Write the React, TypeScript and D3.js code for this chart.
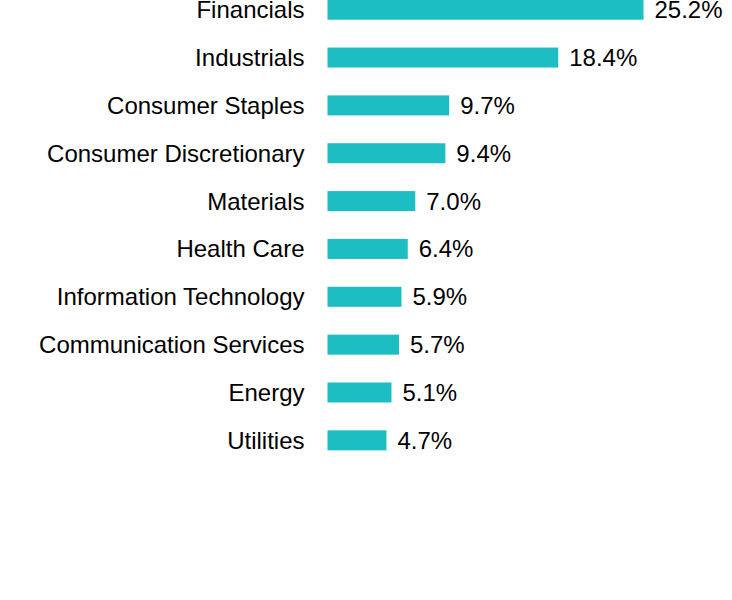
import { useEffect, useRef } from 'react';
import * as d3 from 'd3';

const sectors = [
  'Financials',
  'Industrials',
  'Consumer Staples',
  'Consumer Discretionary',
  'Materials',
  'Health Care',
  'Information Technology',
  'Communication Services',
  'Energy',
  'Utilities',
];

const weights = [25.2, 18.4, 9.7, 9.4, 7.0, 6.4, 5.9, 5.7, 5.1, 4.7];

export default function App() {
  const svgRef = useRef<SVGSVGElement | null>(null);

  useEffect(() => {
    if (!svgRef.current) return;

    const svg = d3.select(svgRef.current);
    svg.selectAll('*').remove();

    const barLeft = 327.5;
    const step = 47.85;
    const barHeight = 20;
    const pad = 1 - barHeight / step;
    const font = 'Arial, "Liberation Sans", sans-serif';

    const rows = sectors.map((name, i) => ({ name, value: weights[i] }));

    // x scale for bar length
    const x = d3.scaleLinear()
      .domain([0, d3.max(weights) as number])
      .range([barLeft, 643.5]);

    // y band scale, first bar sits right at the top edge
    const top = -0.3 - (pad / 2) * step;
    const y = d3.scaleBand()
      .domain(sectors)
      .range([top, top + step * sectors.length])
      .paddingInner(pad)
      .paddingOuter(pad / 2);

    const g = svg.append('g');

    g.selectAll('rect')
      .data(rows)
      .enter()
      .append('rect')
      .attr('x', x(0))
      .attr('y', d => y(d.name) as number)
      .attr('width', d => x(d.value) - x(0))
      .attr('height', y.bandwidth())
      .attr('fill', '#1cbec3');

    // category labels
    g.selectAll('.cat')
      .data(rows)
      .enter()
      .append('text')
      .attr('class', 'cat')
      .attr('x', barLeft - 23)
      .attr('y', d => (y(d.name) as number) + y.bandwidth() / 2)
      .attr('dy', '0.35em')
      .attr('text-anchor', 'end')
      .style('font-family', font)
      .style('font-size', '24px')
      .style('fill', '#000')
      .text(d => d.name);

    // value labels
    g.selectAll('.val')
      .data(rows)
      .enter()
      .append('text')
      .attr('class', 'val')
      .attr('x', d => x(d.value) + 11)
      .attr('y', d => (y(d.name) as number) + y.bandwidth() / 2)
      .attr('dy', '0.35em')
      .attr('text-anchor', 'start')
      .style('font-family', font)
      .style('font-size', '24px')
      .style('fill', '#000')
      .text(d => `${d.value.toFixed(1)}%`);
  }, []);

  return (
    <svg
      ref={svgRef}
      width={732}
      height={600}
      style={{ position: 'absolute', left: 0, top: 0, background: '#fff' }}
    />
  );
}
